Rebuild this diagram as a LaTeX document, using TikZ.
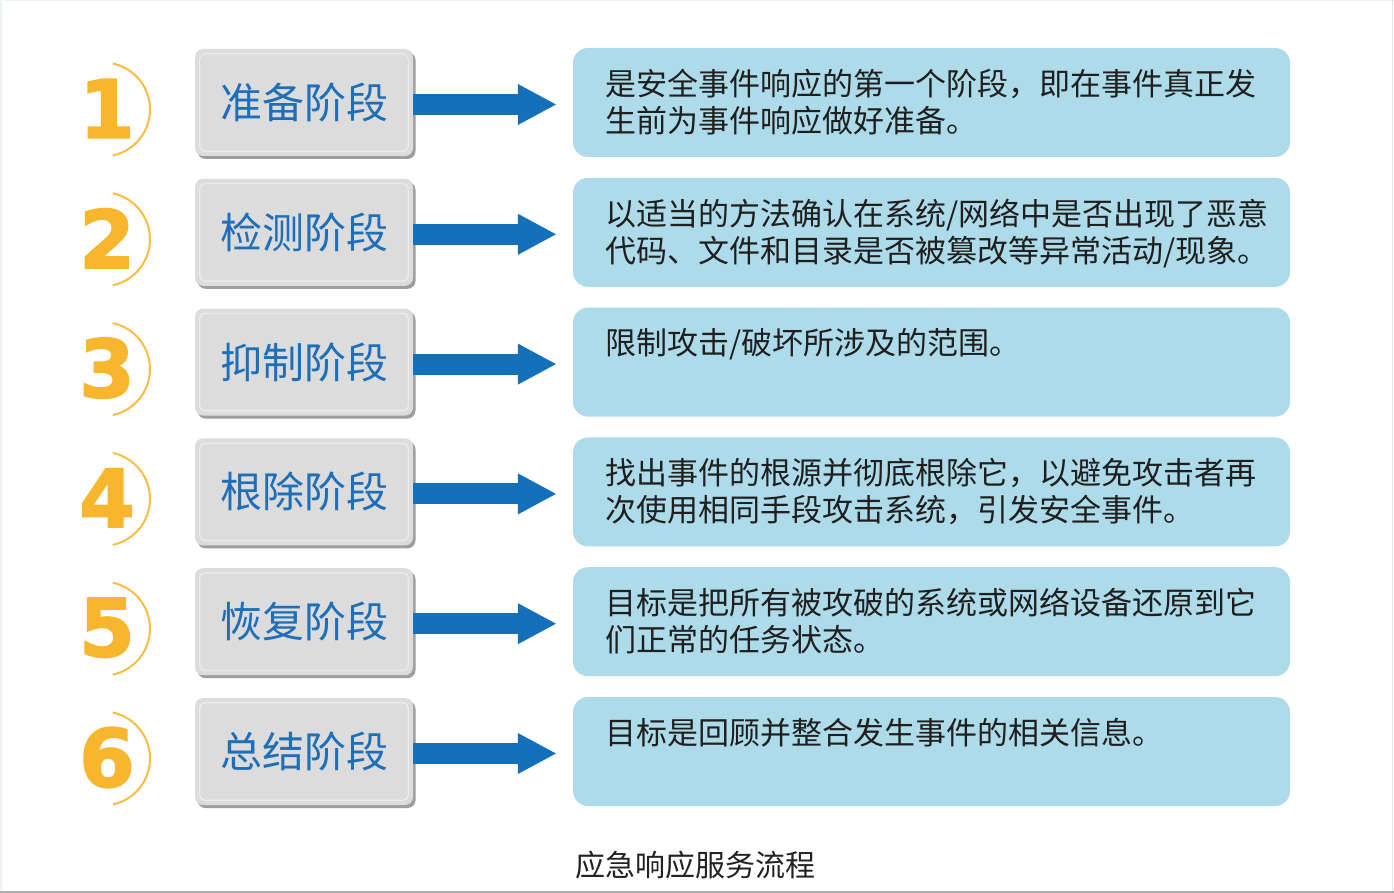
\documentclass[tikz,border=0pt]{standalone}
\usepackage{fontspec}
\setmainfont{Noto Sans CJK SC}
\newfontfamily\digitfont[BoldFeatures={FakeBold=2.2}]{DejaVu Sans}
\usetikzlibrary{arrows.meta,shadows}
\definecolor{stagegray}{HTML}{DCDCDC}
\definecolor{stageline}{HTML}{ECECEC}
\definecolor{stageblue}{HTML}{1F6FB8}
\definecolor{descblue}{HTML}{ADDBEA}
\definecolor{arrowblue}{HTML}{1570BA}
\definecolor{numorange}{HTML}{F8B62E}
\definecolor{ringorange}{HTML}{F9BD45}
\definecolor{captext}{HTML}{222222}
\definecolor{frameblue}{HTML}{EEF3F8}
\definecolor{framegray}{HTML}{ADADAD}
\tikzset{
  stagebox/.style={rounded corners=8pt, fill=stagegray, minimum width=218pt,
    minimum height=107pt, inner sep=0pt, text=stageblue,
    font=\fontsize{42}{42}\selectfont,
    drop shadow={shadow xshift=2.5pt, shadow yshift=-3pt, fill=black!38, opacity=1}},
  innerline/.style={draw=stageline, line width=1.2pt, rounded corners=5pt},
  descbox/.style={rounded corners=15pt, fill=descblue, minimum width=717pt,
    minimum height=109pt, inner sep=0pt},
  desctext/.style={anchor=north west, inner sep=0pt, align=left, text=black!88,
    font=\fontsize{31}{37}\selectfont},
  digit/.style={inner sep=0pt, text=numorange,
    font=\digitfont\bfseries\fontsize{80}{80}\selectfont},
  ring/.style={draw=ringorange, line width=2pt},
  flow/.style={draw=arrowblue, line width=21pt,
    -{Triangle[width=38pt,length=39pt]}},
}
\newcommand\mkrow[3]{%
  \pgfmathsetmacro\rowy{102.5+129.8*(#1-1)}
  \node[stagebox] (stage#1) at (304,\rowy) {#2};
  \draw[innerline] ([shift={(5,5)}]stage#1.north west) rectangle ([shift={(-5,-5)}]stage#1.south east);
  \node[descbox] (desc#1) at (931.5,\rowy) {};
  \node[desctext] (text#1) at ([shift={(32,21)}]desc#1.north west) {#3};
  \node[digit] (num#1) at (107,\rowy+6) {#1};
  \draw[ring] ([shift={(-4,1)}]num#1.center) ++(78:47) arc[start angle=78,end angle=-78,radius=47];
  \draw[flow] ([yshift=-2pt]stage#1.east) -- ([xshift=-16pt,yshift=-2pt]desc#1.west);
}
\begin{document}
\begin{tikzpicture}[x=1pt,y=-1pt]
\useasboundingbox (0,0) rectangle (1394,893);
\fill[white] (0,0) rectangle (1394,893);
\draw[frameblue, line width=1.5pt] (0.75,893) -- (0.75,0.75) -- (1394,0.75);
\draw[black!10, line width=1.5pt] (1392.5,0) -- (1392.5,893);
\draw[framegray, line width=2.5pt] (0,891.75) -- (1394,891.75);
\mkrow{1}{准备阶段}{是安全事件响应的第一个阶段，即在事件真正发\\生前为事件响应做好准备。}
\mkrow{2}{检测阶段}{以适当的方法确认在系统/网络中是否出现了恶意\\代码、文件和目录是否被篡改等异常活动/现象。}
\mkrow{3}{抑制阶段}{限制攻击/破坏所涉及的范围。}
\mkrow{4}{根除阶段}{找出事件的根源并彻底根除它，以避免攻击者再\\次使用相同手段攻击系统，引发安全事件。}
\mkrow{5}{恢复阶段}{目标是把所有被攻破的系统或网络设备还原到它\\们正常的任务状态。}
\mkrow{6}{总结阶段}{目标是回顾并整合发生事件的相关信息。}
\node[text=captext, font=\fontsize{30}{30}\selectfont, inner sep=0pt] (caption) at (695,865) {应急响应服务流程};
\end{tikzpicture}
\end{document}
